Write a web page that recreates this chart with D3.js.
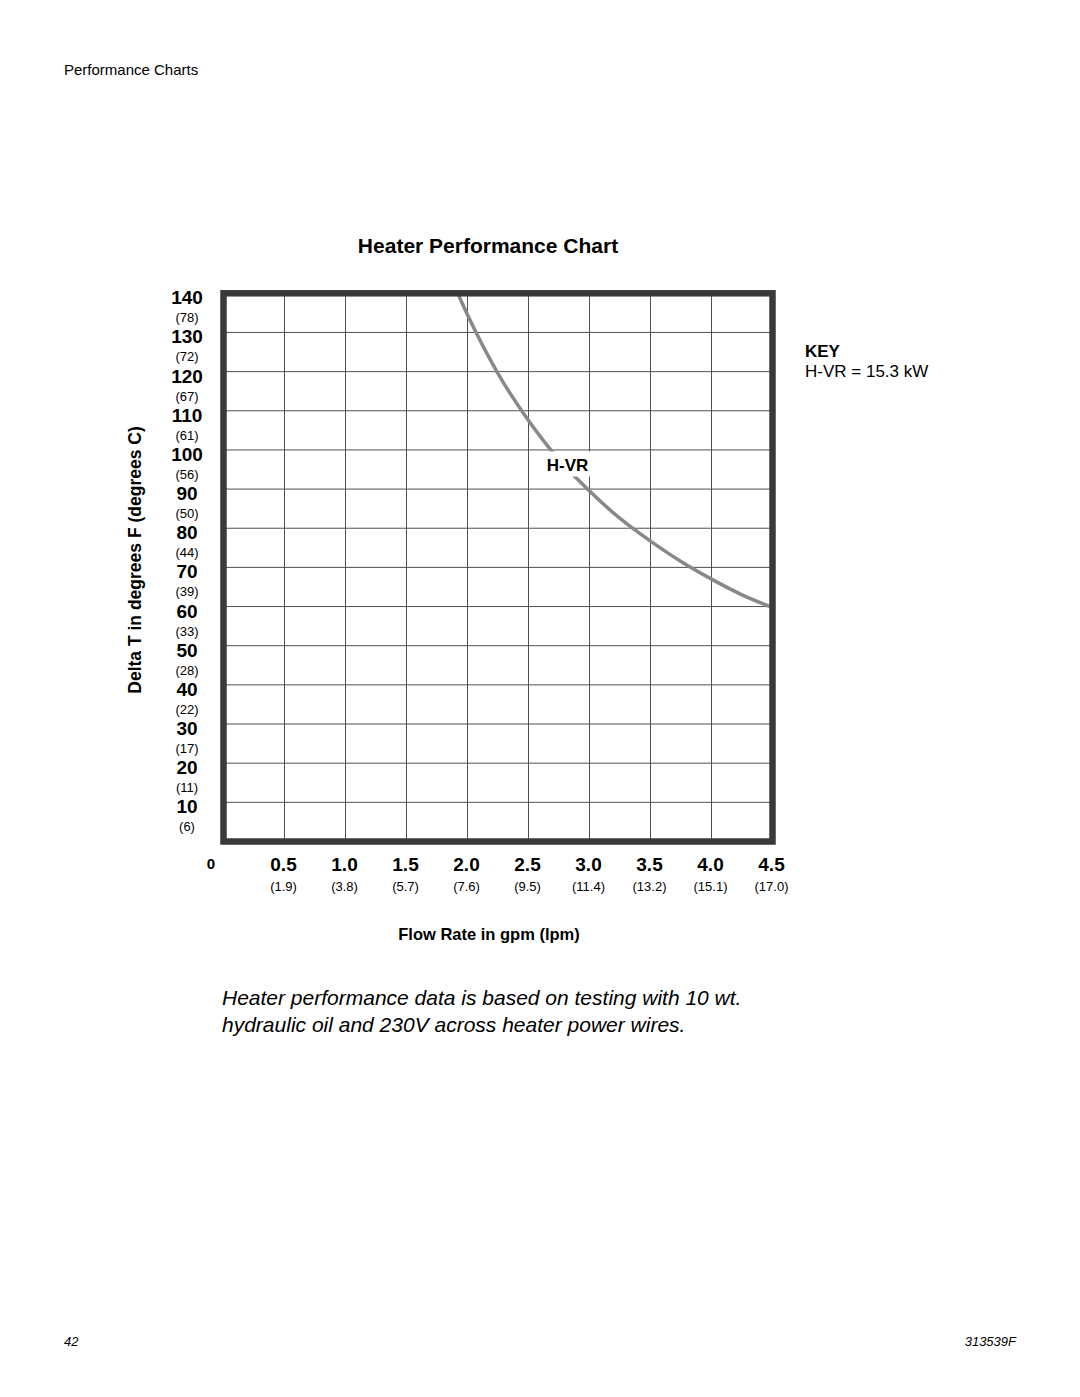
<!DOCTYPE html>
<html>
<head>
<meta charset="utf-8">
<script src="https://cdn.jsdelivr.net/npm/d3@7"></script>
<style>
  html, body { margin: 0; padding: 0; background: #fff; }
  svg { display: block; font-family: "Liberation Sans", Arial, Helvetica, sans-serif; }
</style>
</head>
<body>
<div id="chart"></div>
<script>
// axis ticks
var gpmTicks = [0.5, 1.0, 1.5, 2.0, 2.5, 3.0, 3.5, 4.0, 4.5];
var lpmLabels = ["1.9", "3.8", "5.7", "7.6", "9.5", "11.4", "13.2", "15.1", "17.0"];
var degFTicks = [140, 130, 120, 110, 100, 90, 80, 70, 60, 50, 40, 30, 20, 10];
var degCLabels = ["78", "72", "67", "61", "56", "50", "44", "39", "33", "28", "22", "17", "11", "6"];

// H-VR curve
var hvrFlow = [1.92, 2.0, 2.25, 2.5, 2.75, 3.0, 3.25, 3.5, 3.75, 4.0, 4.25, 4.48];
var hvrDeltaT = [140, 134.5, 119.5, 107.5, 97.5, 89.5, 82.5, 76.7, 71.5, 67, 63, 60];

var width = 1080, height = 1397;

var svg = d3.select("#chart").append("svg")
    .attr("width", width)
    .attr("height", height)
    .attr("viewBox", [0, 0, width, height]);

var x = d3.scaleLinear().domain([0, 4.5]).range([223.5, 772.5]);
var y = d3.scaleLinear().domain([0, 140]).range([841.5, 293.3]);

// page header
svg.append("text")
    .attr("x", 64).attr("y", 75)
    .attr("font-size", 15)
    .text("Performance Charts");

// title
svg.append("text")
    .attr("x", 488).attr("y", 253)
    .attr("text-anchor", "middle")
    .attr("font-size", 21)
    .attr("font-weight", "bold")
    .text("Heater Performance Chart");

// grid
var grid = svg.append("g")
    .attr("stroke", "#505050")
    .attr("stroke-width", 1);

grid.selectAll(".vline")
    .data(gpmTicks.slice(0, -1))
    .join("line")
    .attr("x1", d => x(d)).attr("x2", d => x(d))
    .attr("y1", y(140)).attr("y2", y(0));

grid.selectAll(".hline")
    .data(degFTicks.slice(1))
    .join("line")
    .attr("x1", x(0)).attr("x2", x(4.5))
    .attr("y1", d => y(d)).attr("y2", d => y(d));

// curve
svg.append("clipPath").attr("id", "plot")
    .append("rect")
    .attr("x", x(0)).attr("y", y(140))
    .attr("width", x(4.5) - x(0)).attr("height", y(0) - y(140));

var line = d3.line()
    .x((d, i) => x(hvrFlow[i]))
    .y(d => y(d))
    .curve(d3.curveMonotoneX);

svg.append("path")
    .datum(hvrDeltaT)
    .attr("clip-path", "url(#plot)")
    .attr("d", line)
    .attr("fill", "none")
    .attr("stroke", "#888888")
    .attr("stroke-width", 3.5);

// curve label with white knock-out
svg.append("rect")
    .attr("x", x(2.7) - 12).attr("y", y(99.6))
    .attr("width", 50).attr("height", 25)
    .attr("fill", "#fff");

svg.append("text")
    .attr("x", x(2.82)).attr("y", y(94.5))
    .attr("text-anchor", "middle")
    .attr("font-size", 17)
    .attr("font-weight", "bold")
    .text("H-VR");

// frame
svg.append("rect")
    .attr("x", x(0)).attr("y", y(140))
    .attr("width", x(4.5) - x(0)).attr("height", y(0) - y(140))
    .attr("fill", "none")
    .attr("stroke", "#3a3a3a")
    .attr("stroke-width", 6.5);

// y tick labels
svg.selectAll(".yf")
    .data(degFTicks)
    .join("text")
    .attr("x", 187).attr("y", d => y(d) + 11)
    .attr("text-anchor", "middle")
    .attr("font-size", 19)
    .attr("font-weight", "bold")
    .text(d => d);

svg.selectAll(".yc")
    .data(degCLabels)
    .join("text")
    .attr("x", 187).attr("y", (d, i) => y(degFTicks[i]) + 29)
    .attr("text-anchor", "middle")
    .attr("font-size", 13)
    .text(d => "(" + d + ")");

// x tick labels
svg.append("text")
    .attr("x", 211).attr("y", 869)
    .attr("text-anchor", "middle")
    .attr("font-size", 15)
    .attr("font-weight", "bold")
    .text("0");

svg.selectAll(".xg")
    .data(gpmTicks)
    .join("text")
    .attr("x", d => x(d) - 1).attr("y", 871)
    .attr("text-anchor", "middle")
    .attr("font-size", 19)
    .attr("font-weight", "bold")
    .text(d => d.toFixed(1));

svg.selectAll(".xl")
    .data(lpmLabels)
    .join("text")
    .attr("x", (d, i) => x(gpmTicks[i]) - 1).attr("y", 891)
    .attr("text-anchor", "middle")
    .attr("font-size", 13)
    .text(d => "(" + d + ")");

// axis titles
svg.append("text")
    .attr("transform", "translate(141,560) rotate(-90)")
    .attr("text-anchor", "middle")
    .attr("font-size", 17.5)
    .attr("font-weight", "bold")
    .text("Delta T in degrees F (degrees C)");

svg.append("text")
    .attr("x", 489).attr("y", 940)
    .attr("text-anchor", "middle")
    .attr("font-size", 16.5)
    .attr("font-weight", "bold")
    .text("Flow Rate in gpm (lpm)");

// key
svg.append("text")
    .attr("x", 805).attr("y", 357)
    .attr("font-size", 17)
    .attr("font-weight", "bold")
    .text("KEY");

svg.append("text")
    .attr("x", 805).attr("y", 377)
    .attr("font-size", 17)
    .text("H-VR = 15.3 kW");

// note
var note = svg.append("text")
    .attr("x", 222).attr("y", 1005)
    .attr("font-size", 21)
    .attr("font-style", "italic");
note.append("tspan").attr("x", 222).text("Heater performance data is based on testing with 10 wt.");
note.append("tspan").attr("x", 222).attr("dy", 27).text("hydraulic oil and 230V across heater power wires.");

// footer
svg.append("text")
    .attr("x", 64).attr("y", 1346)
    .attr("font-size", 13)
    .attr("font-style", "italic")
    .text("42");

svg.append("text")
    .attr("x", 1016).attr("y", 1346)
    .attr("text-anchor", "end")
    .attr("font-size", 13)
    .attr("font-style", "italic")
    .text("313539F");
</script>
</body>
</html>
